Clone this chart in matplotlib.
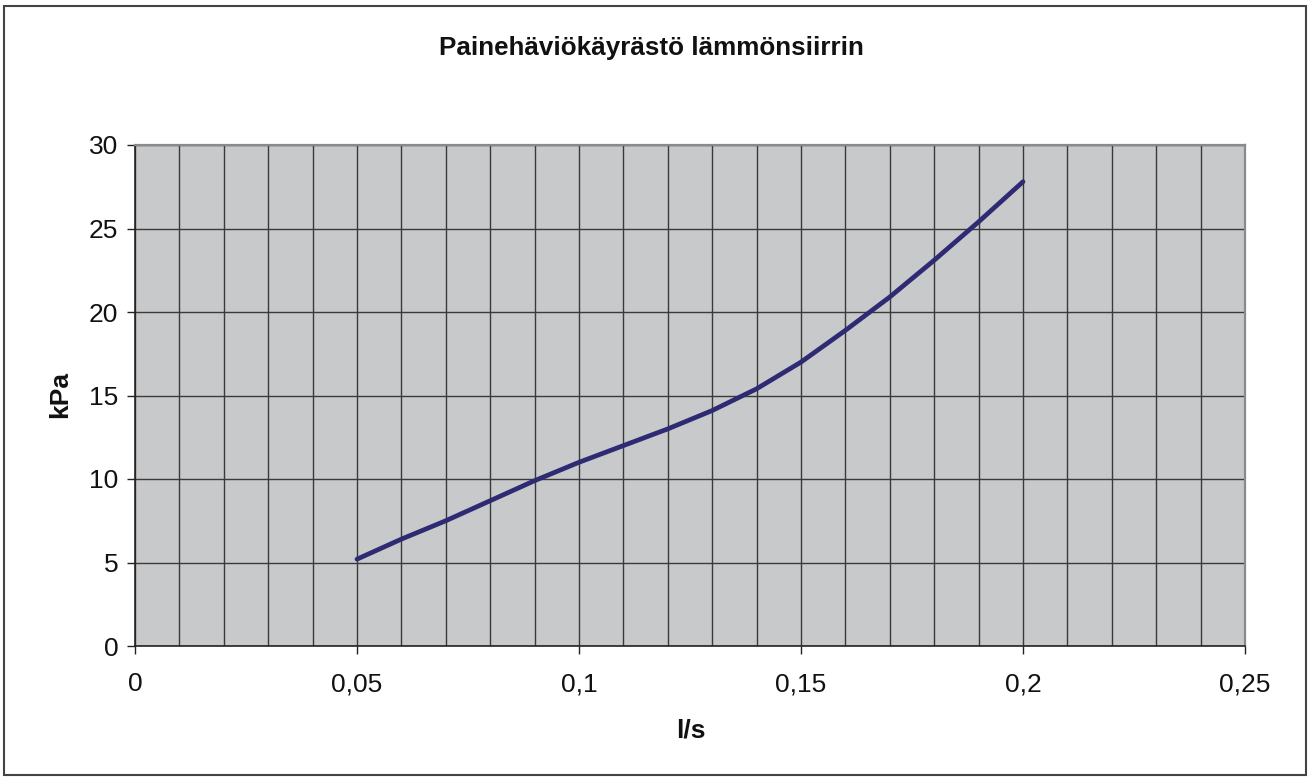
import matplotlib
matplotlib.use("Agg")
import matplotlib.pyplot as plt
from matplotlib.patches import Rectangle
from matplotlib.ticker import MultipleLocator, FixedLocator

# flow (l/s) and pressure drop (kPa)
flow = [0.05, 0.06, 0.07, 0.08, 0.09, 0.10, 0.11, 0.12,
        0.13, 0.14, 0.15, 0.16, 0.17, 0.18, 0.19, 0.20]
kpa = [5.2, 6.4, 7.5, 8.7, 9.9, 11.0, 12.0, 13.0,
       14.1, 15.4, 17.0, 18.9, 20.9, 23.1, 25.4, 27.8]

x_ticks = [0, 0.05, 0.10, 0.15, 0.20, 0.25]
x_labels = ["0", "0,05", "0,1", "0,15", "0,2", "0,25"]
y_ticks = [0, 5, 10, 15, 20, 25, 30]

plt.rcParams["font.family"] = ["Liberation Sans", "DejaVu Sans"]

W, H = 1309, 778
fig = plt.figure(figsize=(W / 100, H / 100), dpi=100)
fig.patch.set_facecolor("white")

# outer chart frame
fig.patches.append(Rectangle((4 / W, 3 / H), 1302 / W, 769 / H,
                             transform=fig.transFigure, fill=False,
                             edgecolor="#444444", linewidth=1.5))

ax = fig.add_axes([135 / W, 1 - 646 / H, 1110 / W, 501 / H])
ax.set_facecolor("#c8c9cb")
ax.plot(flow, kpa, color="#2e2a73", linewidth=3.4, solid_capstyle="round",
        solid_joinstyle="round", zorder=3)

ax.set_xlim(0, 0.25)
ax.set_ylim(0, 30)
ax.xaxis.set_major_locator(FixedLocator(x_ticks))
ax.set_xticklabels(x_labels)
ax.xaxis.set_minor_locator(MultipleLocator(0.01))
ax.set_yticks(y_ticks)

ax.grid(True, which="both", axis="x", color="#3a3a3a", linewidth=1.0)
ax.grid(True, which="major", axis="y", color="#3a3a3a", linewidth=1.0)
ax.set_axisbelow(True)

ax.tick_params(axis="both", which="major", direction="out", length=6,
               width=1, color="#222222", labelsize=19, labelcolor="#111111")
ax.tick_params(axis="x", which="major", pad=13)
ax.tick_params(axis="y", which="major", pad=6)
ax.tick_params(axis="x", which="minor", length=0)

for side in ["left", "bottom"]:
    ax.spines[side].set_color("#222222")
    ax.spines[side].set_linewidth(1.2)
for side in ["top", "right"]:
    ax.spines[side].set_color("#8a8a8a")
    ax.spines[side].set_linewidth(1.6)

fig.text(651 / W, 1 - 48 / H, "Painehäviökäyrästö lämmönsiirrin",
         ha="center", va="center", fontsize=18.7, fontweight="bold", color="#111111")
fig.text(60 / W, 1 - 395 / H, "kPa", ha="center", va="center", rotation=90,
         fontsize=19, fontweight="bold", color="#111111")
fig.text(691 / W, 1 - 730 / H, "l/s", ha="center", va="center",
         fontsize=19, fontweight="bold", color="#111111")

fig.savefig("out.png", dpi=100)
